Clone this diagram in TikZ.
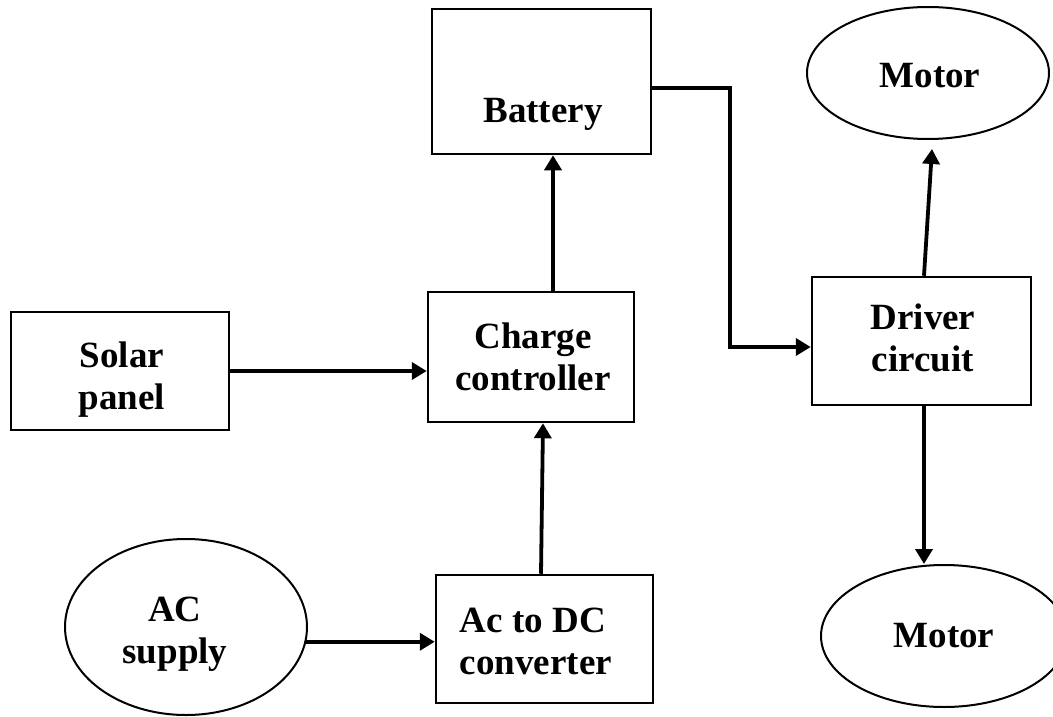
\documentclass[tikz,border=0pt]{standalone}
\usepackage{fontspec}
\setmainfont{Liberation Serif}
\usetikzlibrary{arrows.meta,shapes.geometric}
\begin{document}
\begin{tikzpicture}[x=1pt,y=-1pt,
  box/.style={draw,line width=2.5pt,rectangle,inner sep=0pt},
  oval/.style={draw,line width=2pt,ellipse,inner sep=0pt},
  lbl/.style={font=\bfseries\fontsize{37}{42}\selectfont,align=center,inner sep=0pt},
  arr/.style={line width=3.8pt,-{Triangle[length=15pt,width=17pt]}},
]
\useasboundingbox (0,0) rectangle (1053,717);
\clip (0,0) rectangle (1053,717);
% shapes
\node[box,minimum width=218pt,minimum height=118pt] (solar) at (120,371) {};
\node[box,minimum width=206pt,minimum height=130pt] (charge) at (531,357) {};
\node[box,minimum width=219pt,minimum height=145pt] (battery) at (541.5,81.5) {};
\node[box,minimum width=219pt,minimum height=128pt] (driver) at (921.5,341) {};
\node[box,minimum width=217pt,minimum height=128pt] (acdc) at (544.5,639) {};
\node[oval,minimum width=242pt,minimum height=132pt] (motor1) at (928,73) {};
\node[oval,minimum width=246pt,minimum height=142pt] (motor2) at (944,636) {};
\node[oval,minimum width=242pt,minimum height=176pt] (ac) at (186,627) {};
% labels
\node[lbl] (solarT) at (122,380) {Solar\\panel};
\node[lbl] (chargeT) at (533,357) {Charge\\controller};
\node[lbl] (batteryT) at (543,114.5) {Battery};
\node[lbl] (driverT) at (923,337.5) {Driver\\circuit};
\node[lbl] (motor1T) at (930,76) {Motor};
\node[lbl] (motor2T) at (944,635.5) {Motor};
\node[lbl] (acT) at (175,634.5) {AC\\supply};
\node[lbl,align=left] (acdcT) at (536,641.5) {Ac to DC\\converter};
% connectors
\coordinate (bend) at (730,88);
\draw[arr] (solar.east) -- (charge.west |- solar.east);
\draw[arr] ([xshift=22pt]charge.north) -- ([xshift=22pt]charge.north |- battery.south);
\draw[arr] ([yshift=-6.5pt]battery.east) -- (bend) |- ([yshift=-6pt]driver.west);
\draw[arr] ([xshift=2.5pt]driver.north) -- ([xshift=4pt,yshift=-9pt]motor1.south);
\draw[arr] ([xshift=2.5pt]driver.south) -- ([xshift=2.5pt]driver.south |- motor2.north);
\draw[arr] (ac.-7) -- (acdc.west |- ac.-7);
\draw[arr] ([xshift=-3.5pt]acdc.north) -- ([xshift=12pt]charge.south);
\end{tikzpicture}
\end{document}
